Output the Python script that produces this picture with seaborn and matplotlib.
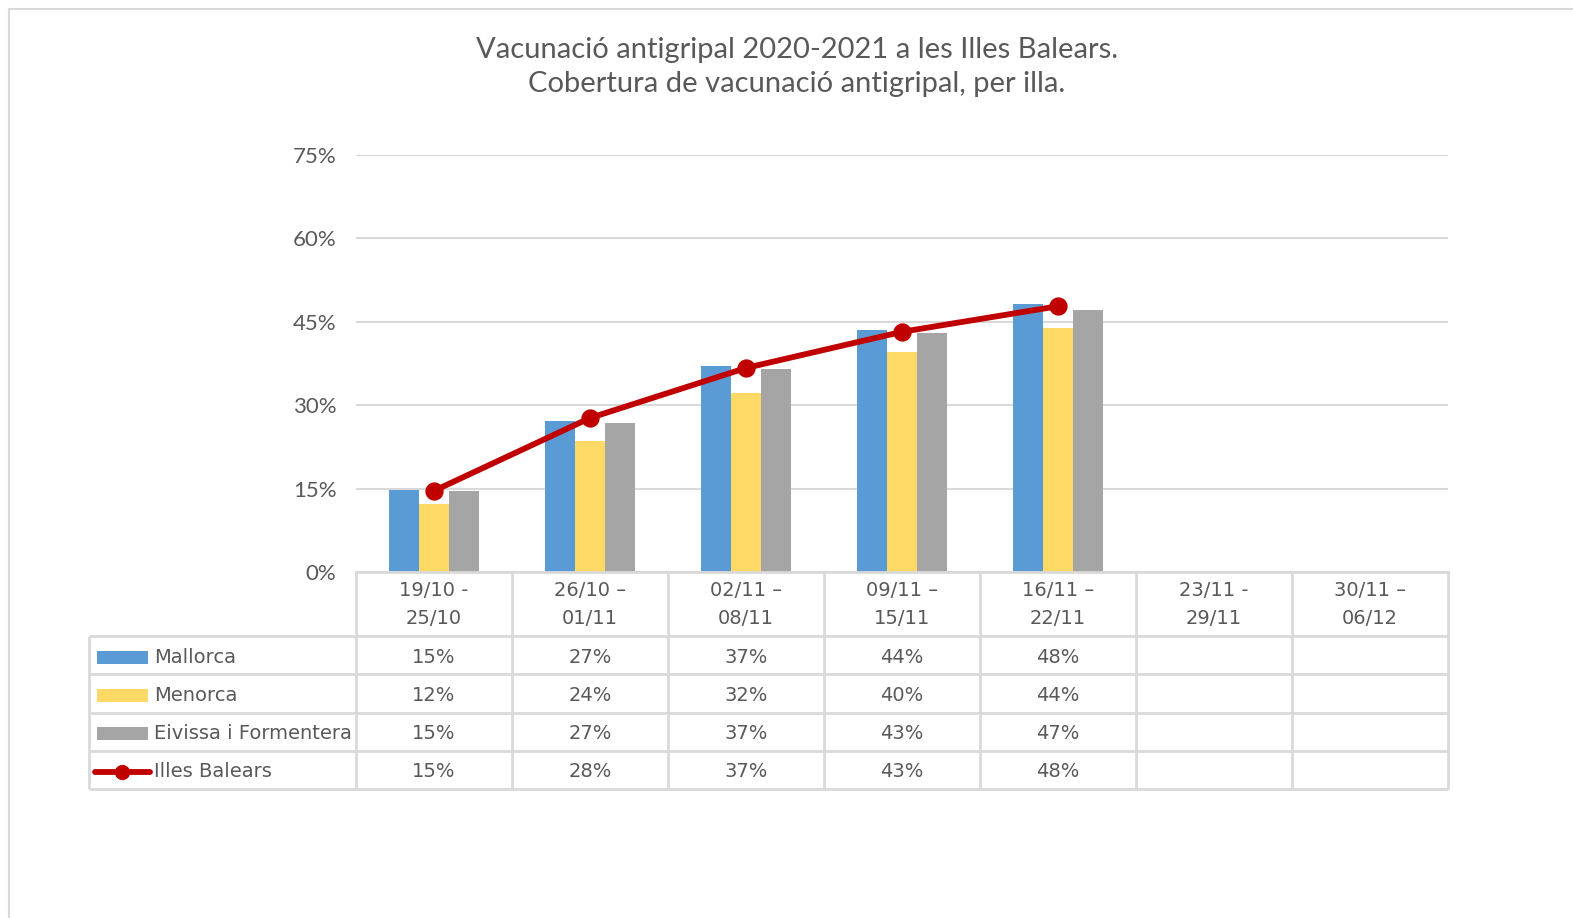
import pandas as pd
import seaborn as sns
import matplotlib.pyplot as plt
from matplotlib.patches import Rectangle
from matplotlib.lines import Line2D

# dades llegides del gràfic
setmanes = ["19/10 -\n25/10", "26/10 –\n01/11", "02/11 –\n08/11", "09/11 –\n15/11",
            "16/11 –\n22/11", "23/11 -\n29/11", "30/11 –\n06/12"]
mallorca = [14.7, 27.2, 37.1, 43.6, 48.2]
menorca = [12.3, 23.6, 32.2, 39.6, 43.9]
eivissa = [14.6, 26.8, 36.6, 43.0, 47.2]
illes_balears = [14.6, 27.7, 36.7, 43.2, 47.8]
yticks = [0, 15, 30, 45, 60, 75]

illes = ["Mallorca", "Menorca", "Eivissa i Formentera"]
colors = ["#5B9BD5", "#FFD966", "#A5A5A5"]
line_color = "#C00000"
grid_color = "#D9D9D9"
text_color = "#595959"

sns.set_style("white")
plt.rcParams['font.family'] = ['Lato', 'DejaVu Sans']

df = pd.DataFrame({
    "setmana": setmanes[:5] * 3,
    "illa": sum([[n] * 5 for n in illes], []),
    "valor": mallorca + menorca + eivissa,
})
df_line = pd.DataFrame({"setmana": setmanes[:5], "valor": illes_balears})

W, H = 1573, 918
fig = plt.figure(figsize=(W / 100, H / 100), dpi=100)

# marc del gràfic
fig.patches.append(Rectangle((9 / W, -0.1), 1.2, (H - 9) / H + 0.1, transform=fig.transFigure,
                             fill=False, edgecolor=grid_color, linewidth=1.5))

ax = fig.add_axes([356 / W, (H - 572) / H, (1448 - 356) / W, (572 - 155) / H])
sns.barplot(data=df, x="setmana", y="valor", hue="illa", order=setmanes, hue_order=illes,
            palette=colors, saturation=1, width=0.58, gap=0, linewidth=0, legend=False, ax=ax)
sns.pointplot(data=df_line, x="setmana", y="valor", order=setmanes, color=line_color,
              markers="o", markersize=10, linewidth=4.2, errorbar=None, ax=ax)
ax.set_xlim(-0.5, len(setmanes) - 0.5)
ax.set_ylim(0, 75)
ax.set_yticks(yticks)
ax.set_yticklabels([f"{t}%" for t in yticks], fontsize=16, color=text_color)
ax.tick_params(axis="y", length=0, pad=14)
ax.tick_params(axis="x", length=0, labelbottom=False)
ax.set_xlabel("")
ax.set_ylabel("")
ax.yaxis.grid(True, color=grid_color, linewidth=1.5)
ax.set_axisbelow(True)
for s in ["top", "right", "left"]:
    ax.spines[s].set_visible(False)
ax.spines["bottom"].set_color(grid_color)
ax.spines["bottom"].set_linewidth(2)

fig.text(797 / W, 1 - 67 / H, "Vacunació antigripal 2020-2021 a les Illes Balears.\nCobertura de vacunació antigripal, per illa.",
         ha="center", va="center", fontsize=21, color=text_color, linespacing=1.4)

# taula de dades
lab_w = (356 - 89) / 156
hdr_h = 64 / 38
tab = fig.add_axes([89 / W, (H - 789) / H, (1448 - 89) / W, (789 - 572) / H])
tab.set_xlim(-0.5 - lab_w, len(setmanes) - 0.5)
tab.set_ylim(-4, hdr_h)
tab.axis("off")
lkw = dict(color=grid_color, linewidth=2, solid_capstyle="butt", clip_on=False)
for i in range(len(setmanes) + 1):
    tab.plot([i - 0.5, i - 0.5], [-4, hdr_h], **lkw)
tab.plot([-0.5 - lab_w, -0.5 - lab_w], [-4, 0], **lkw)
for r in range(0, -5, -1):
    tab.plot([-0.5 - lab_w, len(setmanes) - 0.5], [r, r], **lkw)
for i, s in enumerate(setmanes):
    tab.text(i, hdr_h / 2, s, ha="center", va="center", fontsize=14, color=text_color,
             linespacing=1.6, family="DejaVu Sans")

series = [mallorca, menorca, eivissa, illes_balears]
names = illes + ["Illes Balears"]
x0 = -0.5 - lab_w
for r, (name, vals) in enumerate(zip(names, series)):
    yc = -r - 0.55
    for i, v in enumerate(vals):
        tab.text(i, yc, f"{round(v)}%", ha="center", va="center", fontsize=14,
                 color=text_color, family="DejaVu Sans")
    if r < 3:
        tab.add_patch(Rectangle((x0 + 8 / 156, yc - 0.17), 51 / 156, 0.34,
                                facecolor=colors[r], edgecolor="none"))
    else:
        tab.add_line(Line2D([x0 + 6 / 156, x0 + 33.5 / 156, x0 + 61 / 156], [yc, yc, yc],
                            color=line_color, linewidth=4.2, marker="o", markevery=[1],
                            markersize=10))
    tab.text(x0 + 65 / 156, yc, name, ha="left", va="center", fontsize=14,
             color=text_color, family="DejaVu Sans")

fig.savefig("out.png", dpi=100)
